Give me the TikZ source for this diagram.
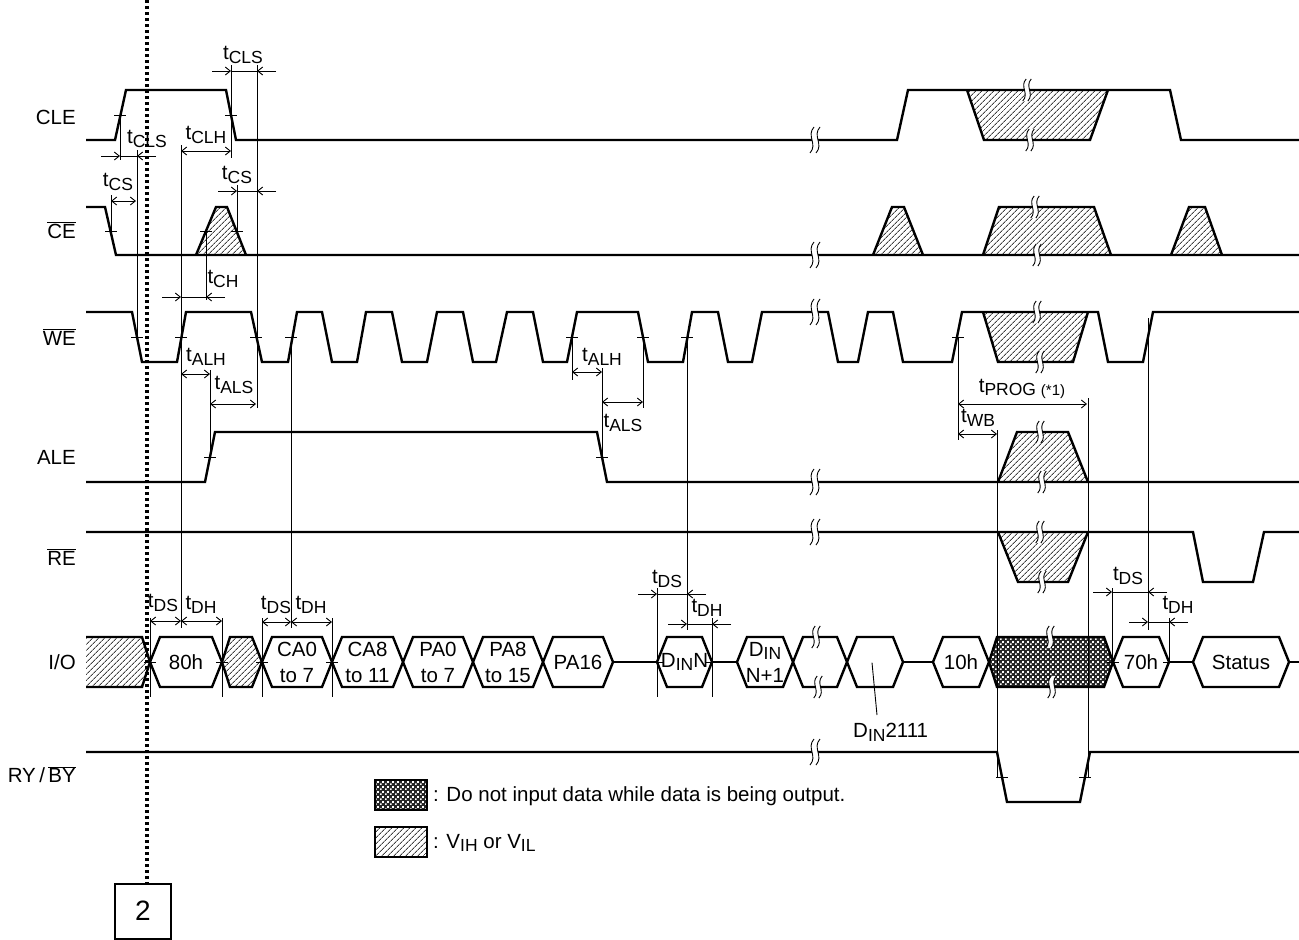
\documentclass[tikz,border=0pt]{standalone}
\usepackage{fontspec}
\setmainfont{Liberation Sans}
\usetikzlibrary{arrows.meta,patterns,patterns.meta}
\pgfdeclarepatternformonly{fchecker}{\pgfpointorigin}{\pgfqpoint{5pt}{5pt}}{\pgfqpoint{5pt}{5pt}}{%
  \pgfpathrectangle{\pgfpointorigin}{\pgfqpoint{2pt}{2pt}}%
  \pgfpathrectangle{\pgfqpoint{2.5pt}{2.5pt}}{\pgfqpoint{2pt}{2pt}}%
  \pgfusepath{fill}}
\newcommand{\lsub}[1]{\raisebox{-0.35ex}{\fontsize{17.5}{17.5}\selectfont #1}}
\newcommand{\tsig}[1]{t\lsub{#1}}
\newcommand{\ovl}[1]{$\overline{\mbox{#1}}$}

\begin{document}
\begin{tikzpicture}[x=1pt,y=-1pt,
  sig/.style={line width=2.4pt,line join=miter},
  thn/.style={line width=0.9pt},
  ar/.style={thn,-{Straight Barb[length=5pt,width=8pt]}},
  dar/.style={thn,{Straight Barb[length=5pt,width=8pt]}-{Straight Barb[length=5pt,width=8pt]}},
  hatch/.style={pattern={Lines[angle=45,distance=4pt,line width=1pt]},pattern color=black!75},
  chk/.style={fill=black!85,postaction={pattern=fchecker,pattern color=white}},
  lbl/.style={inner sep=0pt,font=\fontsize{20.5}{26}\selectfont},
  brkmark/.pic={
    \fill[white] (-1,-13) .. controls (-9,-4) and (3,4) .. (-5,13) -- (1,13)
      .. controls (9,4) and (-3,-4) .. (5,-13) -- cycle;
    \draw[thn] (-1,-13) .. controls (-9,-4) and (3,4) .. (-5,13);
    \draw[thn] (5,-13) .. controls (-3,-4) and (9,4) .. (1,13);
  }]
\useasboundingbox (0,0) rectangle (1299,940);

% signal names
\node[lbl,anchor=east] (cle) at (76,117) {CLE};
\node[lbl,anchor=east] (ce) at (76,230) {\ovl{CE}};
\node[lbl,anchor=east] (we) at (76,337) {\ovl{WE}};
\node[lbl,anchor=east] (ale) at (76,457) {ALE};
\node[lbl,anchor=east] (re) at (76,557) {\ovl{RE}};
\node[lbl,anchor=east] (io) at (76,662) {I/O};
\node[lbl,anchor=east] (ryby) at (76,775) {RY\,/\,\ovl{BY}};

% don't-care areas
\fill[hatch] (967,90) -- (984,140) -- (1090,140) -- (1108,90) -- cycle;
\foreach \a/\b/\c/\d in {196/216/227/246,873/892/904/923,983/999/1094/1111,1171/1189/1205/1222}
  \fill[hatch] (\a,255) -- (\b,207) -- (\c,207) -- (\d,255) -- cycle;
\fill[hatch] (983,312) -- (998,362) -- (1073,362) -- (1088,312) -- cycle;
\fill[hatch] (998,482) -- (1017,432) -- (1068,432) -- (1088,482) -- cycle;
\fill[hatch] (998,532) -- (1018,582) -- (1068,582) -- (1088,532) -- cycle;
\fill[hatch] (86,637) -- (142,637) -- (150,662) -- (142,687) -- (86,687) -- cycle;
\fill[hatch] (222,662) -- (230,637) -- (252,637) -- (262,662) -- (252,687) -- (230,687) -- cycle;
\path[chk] (989,662) -- (997,637) -- (1104,637) -- (1113,662) -- (1104,687) -- (997,687) -- cycle;

% CLE
\draw[sig] (86,140) -- (115,140) -- (126,90) -- (226,90) -- (236,140) -- (897,140) -- (908,90)
  -- (1170,90) -- (1181,140) -- (1299,140);
\draw[sig] (967,90) -- (984,140) -- (1090,140) -- (1108,90);
% CE
\draw[sig] (86,207) -- (105,207) -- (116,255) -- (1299,255);
\foreach \a/\b/\c/\d in {196/216/227/246,873/892/904/923,983/999/1094/1111,1171/1189/1205/1222}
  \draw[sig] (\a,255) -- (\b,207) -- (\c,207) -- (\d,255);
% WE
\draw[sig] (86,312) -- (132,312) -- (142,362) -- (177,362) -- (186,312) -- (251,312) -- (262,362)
  -- (288,362) -- (297,312) -- (322,312) -- (332,362) -- (357,362) -- (366,312) -- (392,312)
  -- (402,362) -- (427,362) -- (437,312) -- (463,312) -- (473,362) -- (496,362) -- (507,312)
  -- (533,312) -- (543,362) -- (567,362) -- (577,312) -- (638,312) -- (648,362) -- (683,362)
  -- (692,312) -- (718,312) -- (728,362) -- (752,362) -- (762,312) -- (828,312) -- (838,362)
  -- (858,362) -- (868,312) -- (893,312) -- (903,362) -- (952,362) -- (962,312) -- (1098,312)
  -- (1108,362) -- (1143,362) -- (1153,312) -- (1299,312);
\draw[sig] (983,312) -- (998,362) -- (1073,362) -- (1088,312);
% ALE
\draw[sig] (86,482) -- (205,482) -- (215,432) -- (597,432) -- (607,482) -- (1299,482);
\draw[sig] (998,482) -- (1017,432) -- (1068,432) -- (1088,482);
% RE
\draw[sig] (86,532) -- (1193,532) -- (1203,582) -- (1253,582) -- (1264,532) -- (1299,532);
\draw[sig] (998,532) -- (1018,582) -- (1068,582) -- (1088,532);
% I/O
\draw[sig] (86,637) -- (142,637) -- (150,662) -- (142,687) -- (86,687);
\draw[sig] (222,662) -- (230,637) -- (252,637) -- (262,662) -- (252,687) -- (230,687) -- cycle;
\draw[sig] (989,662) -- (997,637) -- (1104,637) -- (1113,662) -- (1104,687) -- (997,687) -- cycle;
\foreach \a/\b/\n/\txt in {150/222/h80/80h,262/332/ca0/{CA0\\to 7},332/403/ca8/{CA8\\to 11},
    403/473/pa0/{PA0\\to 7},473/543/pa8/{PA8\\to 15},543/613/pa16/PA16,657/712/dinn/{D\lsub{IN}N},
    737/793/dinm/{D\lsub{IN}\\N+1},793/847/dinx/{},847/903/dinl/{},933/989/h10/10h,
    1113/1169/h70/70h,1193/1289/stat/Status}{
  \draw[sig] (\a,662) -- (\a+10,637) -- (\b-10,637) -- (\b,662) -- (\b-10,687) -- (\a+10,687) -- cycle;
  \node[lbl,align=center] (\n) at ({(\a+\b)/2},662) {\txt};
}
\foreach \a/\b in {613/657,712/737,903/933,1169/1193,1289/1299}
  \draw[sig] (\a,662) -- (\b,662);
% RY/BY
\draw[sig] (86,752) -- (997,752) -- (1007,802) -- (1080,802) -- (1090,752) -- (1299,752);

% breaks
\foreach \y in {140,255,312,482,532,752}
  \pic at (815,\y) {brkmark};
\foreach \x/\y in {816/637,818/687,1027/90,1030/140,1035/207,1037/255,1037/312,1040/362,
    1040/432,1042/482,1040/532,1042/582,1050/637,1052/687}
  \pic[scale=0.85] at (\x,\y) {brkmark};

% edge ticks
\foreach \x/\y in {120/115,231/115,111/231,206/231,237/231,137/337,181/337,256/337,291/337,
    572/337,643/337,687/337,958/337,210/457,602/457,1002/777,1085/777,150/662,222/662,
    262/662,332/662,657/662,712/662,1113/662,1169/662}
  \draw[thn] (\x-6,\y) -- (\x+6,\y);

% reference lines
\foreach \x/\ya/\yb in {120/115/160,137/150/337,111/195/231,181/145/628,231/65/158,257/65/408,
    237/185/231,206/231/300,210/370/457,150/618/697,222/618/697,291/337/628,262/618/697,
    332/618/697,572/337/380,602/368/457,643/337/408,687/337/630,657/588/697,712/618/697,
    958/337/440,997/430/777,1088/398/777,1148/318/630,1112/588/662,1169/618/662}
  \draw[thn] (\x,\ya) -- (\x,\yb);

% timing arrows
\foreach \xa/\xb/\y in {231/257/71,120/137/156,237/257/191,181/206/297,657/687/594,687/712/624,
    1112/1148/592,1148/1169/622}{
  \draw[ar] (\xa-19,\y) -- (\xa,\y);
  \draw[thn] (\xa,\y) -- (\xb,\y);
  \draw[ar] (\xb+19,\y) -- (\xb,\y);
}
\foreach \xa/\xb/\y in {111/136/201,181/231/151,181/210/374,210/256/404,150/181/621,181/222/621,
    262/291/622,291/332/622,572/602/372,602/643/402,958/1087/404,958/997/434}
  \draw[dar] (\xa,\y) -- (\xb,\y);

% timing labels
\node[lbl] (tcls1) at (243,55) {\tsig{CLS}};
\node[lbl] (tcls2) at (147,139) {\tsig{CLS}};
\node[lbl] (tclh) at (206,135) {\tsig{CLH}};
\node[lbl] (tcs1) at (118,182) {\tsig{CS}};
\node[lbl] (tcs2) at (237,175) {\tsig{CS}};
\node[lbl] (tch) at (223,279) {\tsig{CH}};
\node[lbl] (talh1) at (206,357) {\tsig{ALH}};
\node[lbl] (tals1) at (234,385) {\tsig{ALS}};
\node[lbl] (talh2) at (602,357) {\tsig{ALH}};
\node[lbl] (tals2) at (623,423) {\tsig{ALS}};
\node[lbl] (tprog) at (1022,389) {\tsig{PROG {\fontsize{15}{15}\selectfont(*1)}}};
\node[lbl] (twb) at (978,418) {\tsig{WB}};
\node[lbl] (tds1) at (163,603) {\tsig{DS}};
\node[lbl] (tdh1) at (201,605) {\tsig{DH}};
\node[lbl] (tds2) at (276,605) {\tsig{DS}};
\node[lbl] (tdh2) at (311,605) {\tsig{DH}};
\node[lbl] (tds3) at (667,579) {\tsig{DS}};
\node[lbl] (tdh3) at (707,608) {\tsig{DH}};
\node[lbl] (tds4) at (1128,576) {\tsig{DS}};
\node[lbl] (tdh4) at (1178,605) {\tsig{DH}};

% last data word
\node[lbl,anchor=west] (dinlast) at (853,732) {D\lsub{IN}2111};
\draw[thn] (dinl.south) ++(-3,0) -- (877,715);

% legend
\path[chk] (375,780) rectangle (427,810);
\draw[line width=1.5pt] (375,780) rectangle (427,810);
\draw[hatch,line width=1.5pt] (375,827) rectangle (427,857);
\node[lbl,anchor=west] (leg1) at (433,796) {: Do not input data while data is being output.};
\node[lbl,anchor=west] (leg2) at (433,843) {: V\lsub{IH} or V\lsub{IL}};

% page marker
\draw[line width=3.2pt,dash pattern=on 3pt off 3pt] (147,0) -- (147,884);
\draw[line width=1.5pt] (115,884) rectangle (171,939);
\node[lbl,font=\fontsize{28}{28}\selectfont] (pg) at (143,911) {2};
\end{tikzpicture}
\end{document}
